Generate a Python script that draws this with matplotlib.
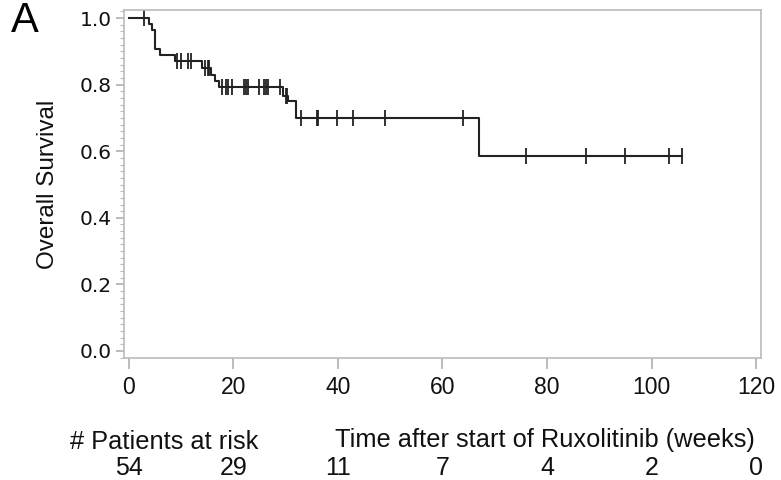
import matplotlib
matplotlib.use("Agg")
import matplotlib.pyplot as plt
from matplotlib.ticker import MultipleLocator

# Kaplan-Meier step data (time in weeks, survival after the step)
step_times = [0, 3.9, 4.4, 5.1, 6.0, 8.9, 14.1, 15.8, 16.6, 17.3, 29.6, 30.4, 32.0, 67.0]
step_surv = [1.0, 0.981, 0.963, 0.907, 0.889, 0.870, 0.849, 0.830, 0.810, 0.792, 0.767, 0.752, 0.700, 0.587]
end_time = 105.8

# censor marks (times)
censor_times = [2.9, 9.2, 10.0, 11.4, 11.9, 14.7, 15.1, 15.4,
                17.9, 18.6, 19.1, 19.8, 22.1, 22.5, 22.9, 25.0, 25.9, 26.3, 26.7, 29.0,
                30.1, 30.3, 32.9, 36.0, 36.2, 39.9, 43.0, 49.0, 64.0,
                76.0, 87.4, 94.9, 103.3, 105.8]

x_ticks = [0, 20, 40, 60, 80, 100, 120]
y_ticks = [0.0, 0.2, 0.4, 0.6, 0.8, 1.0]
at_risk = [54, 29, 11, 7, 4, 2, 0]

FONT = "Liberation Sans"

def surv_at(t):
    s = step_surv[0]
    for tt, ss in zip(step_times, step_surv):
        if tt <= t:
            s = ss
    return s

fig = plt.figure(figsize=(7.81, 4.8), dpi=100)
ax = fig.add_axes([0.1588, 0.2535, 0.8156, 0.7255])

xs = list(step_times) + [end_time]
ys = list(step_surv) + [step_surv[-1]]
ax.step(xs, ys, where="post", color="#222222", lw=1.5)
ax.plot(censor_times, [surv_at(t) for t in censor_times], ls="none",
        marker="|", ms=12, mew=1.3, color="#222222")

ax.set_xlim(-0.86, 120.9)
ax.set_ylim(-0.022, 1.024)
ax.set_xticks(x_ticks)
ax.set_yticks(y_ticks)
ax.set_yticklabels([f"{v:.1f}" for v in y_ticks], fontsize=14.5, family="DejaVu Sans")
ax.set_xticklabels([str(v) for v in x_ticks], fontsize=16.5, family=FONT)
ax.yaxis.set_minor_locator(MultipleLocator(0.02))
for sp in ax.spines.values():
    sp.set_color("#bbbbbb")
    sp.set_linewidth(1.2)
ax.tick_params(axis="x", which="major", length=8, color="#aaaaaa", width=1.1, pad=5, labelcolor="#111111")
ax.tick_params(axis="y", which="major", length=6, color="#aaaaaa", width=1.1, pad=3, labelcolor="#111111")
ax.tick_params(axis="y", which="minor", length=3, color="#bbbbbb", width=0.8)

ax.set_ylabel("Overall Survival", fontsize=17.5, family=FONT, labelpad=15, color="#111111")

fig.text(11/781, 1 - 21/480, "A", fontsize=30, family=FONT, va="center", ha="left")
fig.text(545/781, 1 - 440/480, "Time after start of Ruxolitinib (weeks)", fontsize=18.3,
         family=FONT, ha="center", va="center", color="#111111")
fig.text(164/781, 1 - 442/480, "# Patients at risk", fontsize=18.3, family=FONT,
         ha="center", va="center", color="#111111")
for xv, n in zip(x_ticks, at_risk):
    xpix = ax.transData.transform((xv, 0))[0]
    fig.text(xpix / fig.bbox.width, 1 - 468/480, str(n), fontsize=18, family=FONT,
             ha="center", va="center", color="#111111")

fig.savefig("out.png", dpi=100)
